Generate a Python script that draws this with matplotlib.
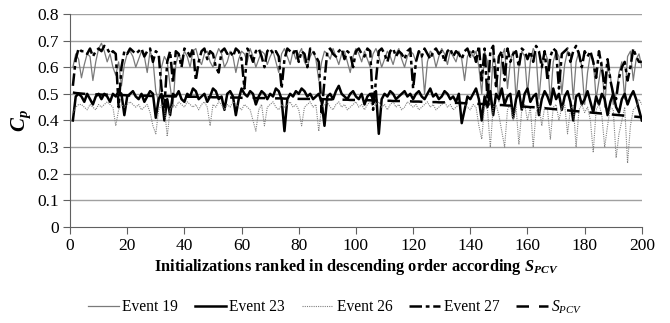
import numpy as np
import matplotlib
matplotlib.use("Agg")
from matplotlib import pyplot as plt

plt.rcParams['font.family'] = ['Liberation Serif', 'DejaVu Serif']
plt.rcParams['mathtext.fontset'] = 'custom'
plt.rcParams['mathtext.rm'] = 'Liberation Serif'
plt.rcParams['mathtext.it'] = 'Liberation Serif:italic'
plt.rcParams['mathtext.bf'] = 'Liberation Serif:bold:italic'

# valores (x = 1..200)
event19 = [
    0.60, 0.65, 0.63, 0.56, 0.61, 0.65, 0.64, 0.55, 0.62, 0.67,
    0.69, 0.66, 0.62, 0.65, 0.60, 0.57, 0.62, 0.53, 0.61, 0.65,
    0.66, 0.64, 0.60, 0.63, 0.66, 0.64, 0.58, 0.66, 0.63, 0.51,
    0.47, 0.60, 0.64, 0.62, 0.53, 0.45, 0.61, 0.65, 0.62, 0.66,
    0.64, 0.60, 0.66, 0.67, 0.63, 0.61, 0.65, 0.66, 0.62, 0.60,
    0.64, 0.67, 0.65, 0.60, 0.62, 0.66, 0.64, 0.58, 0.63, 0.66,
    0.65, 0.62, 0.67, 0.64, 0.60, 0.63, 0.66, 0.65, 0.61, 0.64,
    0.66, 0.62, 0.58, 0.65, 0.67, 0.64, 0.61, 0.66, 0.63, 0.65,
    0.67, 0.62, 0.60, 0.64, 0.66, 0.63, 0.55, 0.62, 0.66, 0.65,
    0.63, 0.67, 0.64, 0.61, 0.65, 0.66, 0.62, 0.58, 0.64, 0.67,
    0.65, 0.62, 0.66, 0.63, 0.60, 0.65, 0.67, 0.64, 0.60, 0.63,
    0.66, 0.64, 0.61, 0.65, 0.67, 0.63, 0.60, 0.64, 0.66, 0.65,
    0.62, 0.66, 0.64, 0.50, 0.62, 0.66, 0.65, 0.60, 0.64, 0.67,
    0.65, 0.61, 0.66, 0.64, 0.62, 0.66, 0.63, 0.55, 0.64, 0.66,
    0.64, 0.66, 0.60, 0.50, 0.66, 0.62, 0.46, 0.65, 0.60, 0.47,
    0.64, 0.67, 0.52, 0.62, 0.66, 0.48, 0.60, 0.66, 0.64, 0.50,
    0.62, 0.67, 0.65, 0.48, 0.60, 0.66, 0.63, 0.47, 0.62, 0.66,
    0.64, 0.50, 0.61, 0.66, 0.65, 0.48, 0.62, 0.66, 0.60, 0.46,
    0.58, 0.65, 0.63, 0.48, 0.55, 0.62, 0.45, 0.60, 0.57, 0.46,
    0.50, 0.58, 0.62, 0.48, 0.64, 0.66, 0.55, 0.63, 0.65, 0.60]

event23 = [
    0.40, 0.49, 0.50, 0.49, 0.47, 0.50, 0.48, 0.46, 0.49, 0.50,
    0.48, 0.50, 0.49, 0.47, 0.50, 0.49, 0.51, 0.50, 0.42, 0.49,
    0.50, 0.51, 0.49, 0.48, 0.50, 0.47, 0.49, 0.51, 0.50, 0.41,
    0.48, 0.50, 0.40, 0.48, 0.42, 0.50, 0.49, 0.51, 0.48, 0.47,
    0.50, 0.49, 0.52, 0.51, 0.48, 0.49, 0.50, 0.47, 0.49, 0.52,
    0.51, 0.48, 0.49, 0.44, 0.50, 0.51, 0.49, 0.42, 0.48, 0.52,
    0.50, 0.49, 0.51, 0.50, 0.46, 0.49, 0.51, 0.50, 0.48, 0.50,
    0.49, 0.52, 0.51, 0.48, 0.36, 0.48, 0.50, 0.49, 0.51, 0.50,
    0.52, 0.51, 0.49, 0.50, 0.48, 0.49, 0.50, 0.47, 0.38, 0.49,
    0.50, 0.48, 0.51, 0.53, 0.50, 0.49, 0.48, 0.50, 0.51, 0.49,
    0.48, 0.50, 0.46, 0.49, 0.50, 0.48, 0.51, 0.35, 0.48, 0.50,
    0.49, 0.51, 0.50, 0.48, 0.49, 0.50, 0.51, 0.49, 0.50, 0.48,
    0.50, 0.51, 0.49, 0.48, 0.50, 0.52, 0.49, 0.50, 0.48, 0.49,
    0.51, 0.50, 0.48, 0.49, 0.47, 0.50, 0.39, 0.44, 0.49, 0.48,
    0.50, 0.52, 0.48, 0.40, 0.49, 0.45, 0.51, 0.42, 0.50, 0.48,
    0.52, 0.46, 0.49, 0.50, 0.41, 0.48, 0.51, 0.44, 0.50, 0.52,
    0.47, 0.49, 0.50, 0.42, 0.48, 0.51, 0.49, 0.46, 0.52, 0.48,
    0.50, 0.44, 0.49, 0.51, 0.47, 0.40, 0.49, 0.50, 0.46, 0.48,
    0.51, 0.47, 0.43, 0.49, 0.46, 0.50, 0.48, 0.42, 0.47, 0.50,
    0.45, 0.43, 0.48, 0.50, 0.46, 0.49, 0.51, 0.48, 0.44, 0.40]

event26 = [
    0.43, 0.45, 0.46, 0.46, 0.45, 0.44, 0.46, 0.45, 0.44, 0.46,
    0.45, 0.46, 0.47, 0.46, 0.45, 0.38, 0.44, 0.46, 0.45, 0.46,
    0.47, 0.46, 0.45, 0.46, 0.44, 0.45, 0.46, 0.43, 0.38, 0.35,
    0.44, 0.46, 0.45, 0.34, 0.44, 0.46, 0.45, 0.47, 0.46, 0.45,
    0.47, 0.46, 0.45, 0.46, 0.44, 0.46, 0.47, 0.45, 0.38, 0.46,
    0.45, 0.47, 0.46, 0.44, 0.46, 0.45, 0.47, 0.46, 0.45, 0.44,
    0.46, 0.45, 0.44, 0.40, 0.36, 0.44, 0.46, 0.38, 0.45, 0.46,
    0.47, 0.45, 0.44, 0.46, 0.45, 0.46, 0.47, 0.45, 0.46, 0.44,
    0.38, 0.45, 0.46, 0.47, 0.45, 0.46, 0.36, 0.45, 0.46, 0.47,
    0.45, 0.44, 0.46, 0.47, 0.45, 0.46, 0.44, 0.45, 0.46, 0.47,
    0.45, 0.46, 0.44, 0.46, 0.47, 0.45, 0.46, 0.47, 0.45, 0.46,
    0.44, 0.46, 0.47, 0.45, 0.46, 0.44, 0.45, 0.47, 0.46, 0.45,
    0.46, 0.44, 0.45, 0.46, 0.47, 0.45, 0.46, 0.44, 0.45, 0.46,
    0.47, 0.45, 0.46, 0.44, 0.45, 0.46, 0.47, 0.46, 0.45, 0.44,
    0.46, 0.45, 0.38, 0.33, 0.46, 0.44, 0.30, 0.45, 0.46, 0.42,
    0.36, 0.30, 0.44, 0.46, 0.40, 0.45, 0.31, 0.44, 0.46, 0.40,
    0.45, 0.30, 0.43, 0.46, 0.38, 0.45, 0.44, 0.33, 0.45, 0.46,
    0.40, 0.45, 0.46, 0.35, 0.44, 0.46, 0.30, 0.44, 0.46, 0.43,
    0.45, 0.40, 0.28, 0.44, 0.46, 0.42, 0.30, 0.38, 0.45, 0.44,
    0.26, 0.35, 0.40, 0.45, 0.24, 0.38, 0.44, 0.45, 0.48, 0.46]

event27 = [
    0.53, 0.63, 0.67, 0.66, 0.66, 0.65, 0.67, 0.64, 0.66, 0.67,
    0.66, 0.68, 0.67, 0.65, 0.66, 0.65, 0.45, 0.60, 0.66, 0.65,
    0.67, 0.66, 0.65, 0.66, 0.67, 0.64, 0.66, 0.67, 0.62, 0.66,
    0.65, 0.52, 0.45, 0.62, 0.66, 0.54, 0.66, 0.65, 0.60, 0.67,
    0.66, 0.64, 0.67, 0.55, 0.62, 0.66, 0.67, 0.63, 0.66, 0.65,
    0.60, 0.58, 0.66, 0.67, 0.65, 0.66, 0.64, 0.67, 0.66, 0.63,
    0.52, 0.67, 0.65, 0.62, 0.66, 0.67, 0.64, 0.60, 0.66, 0.67,
    0.65, 0.66, 0.64, 0.52, 0.63, 0.67, 0.66, 0.65, 0.67, 0.62,
    0.66, 0.65, 0.60, 0.67, 0.66, 0.64, 0.62, 0.43, 0.55, 0.66,
    0.67, 0.65, 0.64, 0.66, 0.67, 0.63, 0.66, 0.65, 0.60, 0.66,
    0.67, 0.65, 0.64, 0.67, 0.66, 0.44, 0.55, 0.66, 0.67, 0.65,
    0.62, 0.66, 0.67, 0.64, 0.66, 0.65, 0.63, 0.66, 0.67, 0.52,
    0.62, 0.66, 0.64, 0.67, 0.65, 0.63, 0.66, 0.67, 0.65, 0.66,
    0.62, 0.66, 0.67, 0.64, 0.66, 0.65, 0.63, 0.66, 0.67, 0.64,
    0.66, 0.62, 0.68, 0.55, 0.67, 0.48, 0.66, 0.68, 0.52, 0.64,
    0.66, 0.55, 0.67, 0.62, 0.65, 0.66, 0.60, 0.67, 0.66, 0.63,
    0.66, 0.62, 0.68, 0.66, 0.60, 0.66, 0.55, 0.64, 0.67, 0.66,
    0.52, 0.65, 0.66, 0.67, 0.62, 0.66, 0.68, 0.65, 0.60, 0.66,
    0.64, 0.66, 0.62, 0.56, 0.66, 0.60, 0.52, 0.63, 0.55, 0.50,
    0.48, 0.56, 0.60, 0.62, 0.55, 0.60, 0.67, 0.64, 0.62, 0.62]

spcv = [
    0.505, 0.503, 0.502, 0.501, 0.500, 0.500, 0.499, 0.499, 0.498, 0.498,
    0.497, 0.497, 0.497, 0.496, 0.496, 0.496, 0.495, 0.495, 0.495, 0.494,
    0.494, 0.494, 0.494, 0.493, 0.493, 0.493, 0.493, 0.492, 0.492, 0.492,
    0.492, 0.491, 0.491, 0.491, 0.491, 0.490, 0.490, 0.490, 0.490, 0.490,
    0.489, 0.489, 0.489, 0.489, 0.488, 0.488, 0.488, 0.488, 0.488, 0.487,
    0.487, 0.487, 0.487, 0.487, 0.486, 0.486, 0.486, 0.486, 0.486, 0.485,
    0.485, 0.485, 0.485, 0.485, 0.484, 0.484, 0.484, 0.484, 0.484, 0.483,
    0.483, 0.483, 0.483, 0.483, 0.482, 0.482, 0.482, 0.482, 0.482, 0.481,
    0.481, 0.481, 0.481, 0.481, 0.480, 0.480, 0.480, 0.480, 0.480, 0.479,
    0.479, 0.479, 0.479, 0.478, 0.478, 0.478, 0.478, 0.477, 0.477, 0.477,
    0.477, 0.476, 0.476, 0.476, 0.476, 0.475, 0.475, 0.475, 0.475, 0.474,
    0.474, 0.474, 0.473, 0.473, 0.473, 0.473, 0.472, 0.472, 0.472, 0.471,
    0.471, 0.471, 0.470, 0.470, 0.470, 0.469, 0.469, 0.469, 0.468, 0.468,
    0.468, 0.467, 0.467, 0.466, 0.466, 0.466, 0.465, 0.465, 0.464, 0.464,
    0.463, 0.463, 0.462, 0.462, 0.461, 0.461, 0.460, 0.460, 0.459, 0.458,
    0.458, 0.457, 0.456, 0.456, 0.455, 0.454, 0.454, 0.453, 0.452, 0.451,
    0.450, 0.450, 0.449, 0.448, 0.447, 0.446, 0.445, 0.444, 0.443, 0.442,
    0.441, 0.440, 0.439, 0.438, 0.437, 0.436, 0.435, 0.434, 0.433, 0.432,
    0.431, 0.430, 0.429, 0.428, 0.427, 0.426, 0.425, 0.424, 0.423, 0.422,
    0.421, 0.420, 0.419, 0.418, 0.417, 0.416, 0.415, 0.414, 0.413, 0.412]

x = np.arange(1, len(event19) + 1)

fig = plt.figure(figsize=(6.7, 3.23), dpi=100)
ax = fig.add_axes([0.1045, 0.297, 0.8535, 0.66])

for yv in np.arange(0.1, 0.81, 0.1):
    ax.axhline(yv, color="#a0a0a0", lw=1.0, zorder=0)

ax.plot(x, event19, color="#7a7a7a", lw=0.9, label="Event 19")
ax.plot(x, event23, color="black", lw=1.8, label="Event 23")
ax.plot(x, event26, color="#808080", lw=0.8, linestyle=(0, (1, 1)), label="Event 26")
ax.plot(x, event27, color="black", lw=1.8, linestyle=(0, (5, 1.5, 1.5, 1.5)), label="Event 27")
ax.plot(x, spcv, color="black", lw=1.8, linestyle=(0, (5, 4)), label=r"$S_{PCV}$")

ax.set_xlim(0, 200)
ax.set_ylim(0, 0.8)
ax.set_xticks(np.arange(0, 201, 20))
ax.set_yticks(np.arange(0, 0.81, 0.1))
ax.set_yticklabels(["0", "0.1", "0.2", "0.3", "0.4", "0.5", "0.6", "0.7", "0.8"])
ax.tick_params(labelsize=12.5, direction="out", length=5, color="#606060", pad=3)
for s in ["top", "right"]:
    ax.spines[s].set_visible(False)
for s in ["left", "bottom"]:
    ax.spines[s].set_color("#606060")

ax.set_ylabel(r"$\mathbf{C_p}$", fontsize=15, labelpad=3)
ax.set_xlabel(r"Initializations ranked in descending order according $\mathbf{S_{PCV}}$",
              fontsize=11.8, fontweight="bold", labelpad=2)

fig.legend(loc="center", bbox_to_anchor=(0.5, 0.05), ncol=5, frameon=False,
           fontsize=11.2, handlelength=2.0, columnspacing=1.1, handletextpad=0.2)

fig.savefig("out.png", dpi=100)
